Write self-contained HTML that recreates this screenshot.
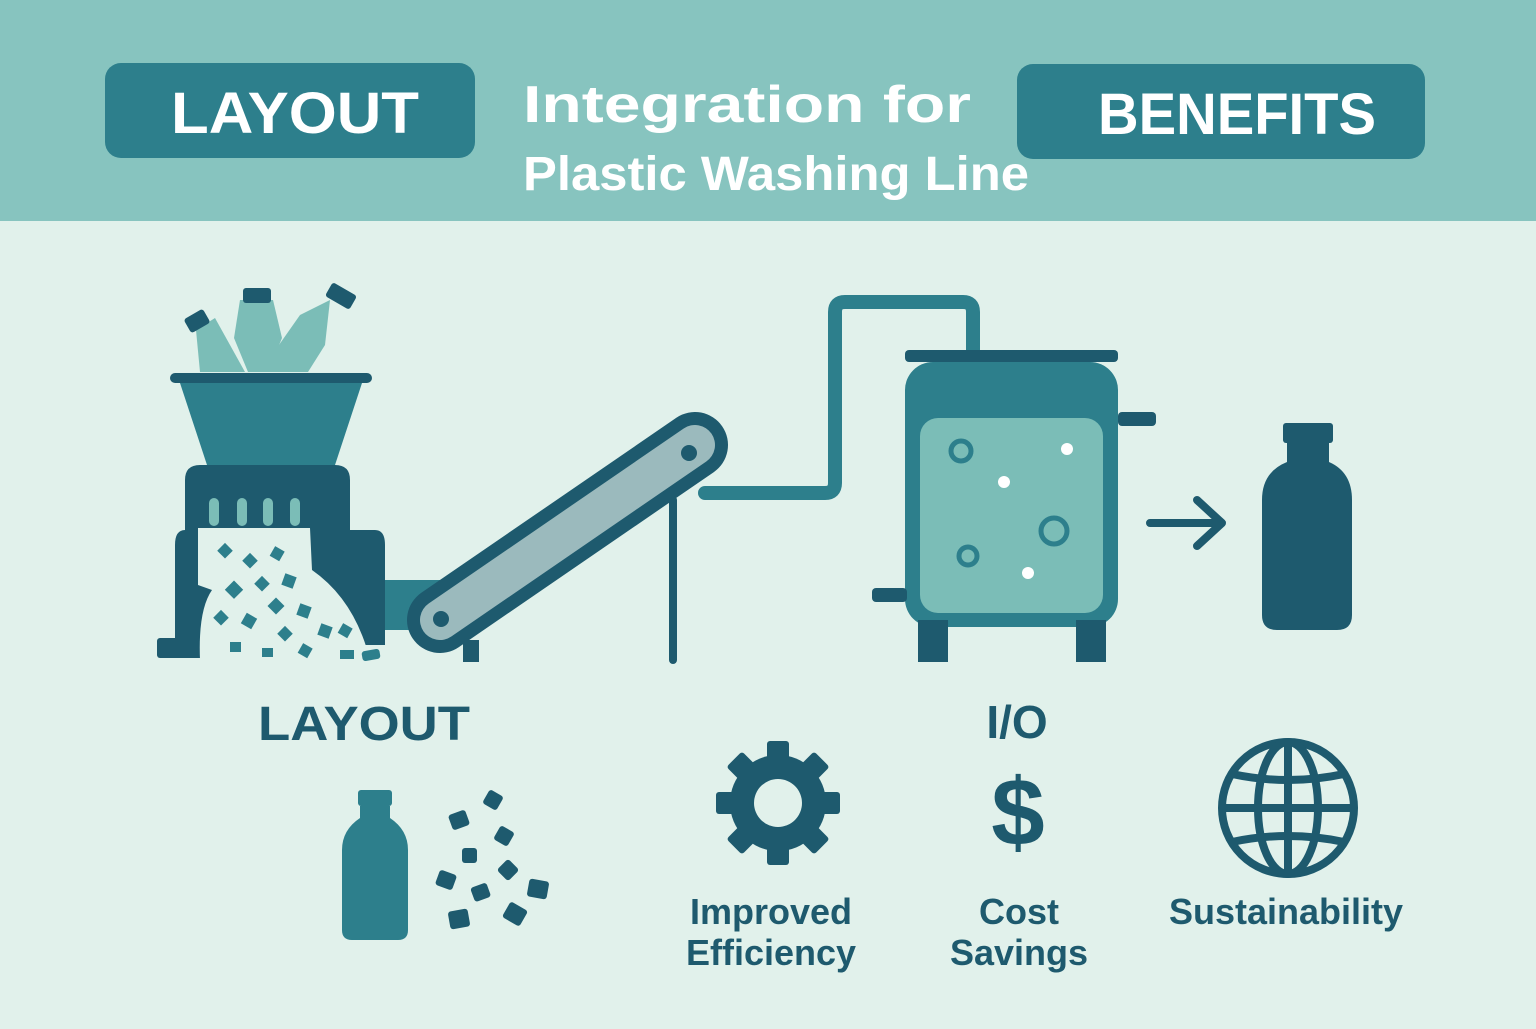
<!DOCTYPE html>
<html><head><meta charset="utf-8"><style>
body{margin:0;width:1536px;height:1024px;background:#e1f1eb;overflow:hidden;font-family:"Liberation Sans",sans-serif}
</style></head><body>
<svg width="1536" height="1024" xmlns="http://www.w3.org/2000/svg" font-family="Liberation Sans, sans-serif" font-weight="bold">
<rect x="0" y="0" width="1536" height="221" fill="#87c4bf"/>
<rect x="105" y="63" width="370" height="95" rx="16" fill="#2d7f8c"/>
<text x="295" y="133" font-size="58" fill="#fff" text-anchor="middle" textLength="248" lengthAdjust="spacingAndGlyphs">LAYOUT</text>
<rect x="1017" y="64" width="408" height="95" rx="16" fill="#2d7f8c"/>
<text x="1237" y="134" font-size="58" fill="#fff" text-anchor="middle" textLength="278" lengthAdjust="spacingAndGlyphs">BENEFITS</text>
<text x="523" y="122" font-size="52" fill="#fff" textLength="448" lengthAdjust="spacingAndGlyphs">Integration for</text>
<text x="523" y="190" font-size="48" fill="#fff" textLength="506" lengthAdjust="spacingAndGlyphs">Plastic Washing Line</text>

<!-- bottles in hopper -->
<g fill="#7bbdb7">
<path d="M196 330 L215 318 L245 372 L200 372 Z"/>
<path d="M240 300 L273 300 L282 338 L268 372 L248 372 L234 338 Z"/>
<path d="M300 315 L330 300 L325 345 L308 372 L260 372 Z"/>
</g>
<g fill="#1e5a6e">
<rect x="186" y="313" width="22" height="16" rx="3" transform="rotate(-30 197 321)"/>
<rect x="243" y="288" width="28" height="15" rx="3"/>
<rect x="327" y="288" width="28" height="16" rx="3" transform="rotate(30 341 296)"/>
</g>
<rect x="170" y="373" width="202" height="10" rx="5" fill="#1e5a6e"/>
<path d="M180 383 L362 383 L335 465 L207 465 Z" fill="#2d7f8c"/>
<path d="M185 480 Q185 465 200 465 L335 465 Q350 465 350 480 L350 530 L375 530 Q385 530 385 545 L385 645 L175 645 L175 545 Q175 530 185 530 Z" fill="#1e5a6e"/>
<rect x="157" y="638" width="60" height="20" rx="3" fill="#1e5a6e"/>
<g fill="#7bbdb7"><rect x="209" y="498" width="10" height="28" rx="5"/><rect x="237" y="498" width="10" height="28" rx="5"/><rect x="263" y="498" width="10" height="28" rx="5"/><rect x="290" y="498" width="10" height="28" rx="5"/></g>
<path d="M198 528 L310 528 L312 570 Q355 600 370 660 L200 660 Q198 610 212 590 L198 585 Z" fill="#e1f1eb"/>
<g fill="#2d7f8c">
<rect x="220" y="545" width="11" height="11" transform="rotate(45 225 550)"/><rect x="245" y="555" width="11" height="11" transform="rotate(45 250 560)"/><rect x="272" y="548" width="11" height="11" transform="rotate(30 277 553)"/><rect x="257" y="578" width="11" height="11" transform="rotate(45 262 583)"/><rect x="283" y="575" width="12" height="12" transform="rotate(20 289 581)"/><rect x="228" y="583" width="13" height="13" transform="rotate(45 234 589)"/><rect x="270" y="600" width="12" height="12" transform="rotate(45 276 606)"/><rect x="298" y="605" width="12" height="12" transform="rotate(20 304 611)"/><rect x="216" y="612" width="11" height="11" transform="rotate(45 221 617)"/><rect x="243" y="615" width="12" height="12" transform="rotate(30 249 621)"/><rect x="280" y="628" width="11" height="11" transform="rotate(45 285 633)"/><rect x="319" y="625" width="12" height="12" transform="rotate(20 325 631)"/><rect x="230" y="642" width="11" height="10"/><rect x="262" y="648" width="11" height="9"/><rect x="300" y="645" width="11" height="11" transform="rotate(30 305 650)"/><rect x="340" y="625" width="11" height="11" transform="rotate(30 345 630)"/><rect x="340" y="650" width="14" height="9"/><rect x="362" y="650" width="18" height="10" rx="3" transform="rotate(-10 371 655)"/>
</g>
<rect x="385" y="580" width="60" height="50" fill="#2d7f8c"/>
<line x1="440" y1="620" x2="695" y2="445" stroke="#1e5a6e" stroke-width="66" stroke-linecap="round"/>
<line x1="440" y1="620" x2="695" y2="445" stroke="#9bbabd" stroke-width="40" stroke-linecap="round"/>
<circle cx="441" cy="619" r="8" fill="#1e5a6e"/><circle cx="689" cy="453" r="8" fill="#1e5a6e"/>
<line x1="673" y1="500" x2="673" y2="660" stroke="#1e5a6e" stroke-width="8" stroke-linecap="round"/>
<rect x="463" y="640" width="16" height="22" fill="#1e5a6e"/>
<path d="M705 493 L825 493 Q835 493 835 483 L835 312 Q835 302 845 302 L963 302 Q973 302 973 312 L973 352" fill="none" stroke="#2d7f8c" stroke-width="14" stroke-linecap="round"/>
<rect x="905" y="350" width="213" height="12" rx="4" fill="#1e5a6e"/>
<rect x="905" y="362" width="213" height="265" rx="28" fill="#2d7f8c"/>
<rect x="920" y="418" width="183" height="195" rx="18" fill="#7bbdb7"/>
<rect x="1118" y="412" width="38" height="14" rx="4" fill="#1e5a6e"/>
<rect x="872" y="588" width="35" height="14" rx="4" fill="#1e5a6e"/>
<rect x="918" y="620" width="30" height="42" fill="#1e5a6e"/><rect x="1076" y="620" width="30" height="42" fill="#1e5a6e"/>
<g fill="none" stroke="#2d7f8c" stroke-width="5"><circle cx="961" cy="451" r="10"/><circle cx="1054" cy="531" r="13"/><circle cx="968" cy="556" r="9"/></g>
<g fill="#fff"><circle cx="1067" cy="449" r="6"/><circle cx="1004" cy="482" r="6"/><circle cx="1028" cy="573" r="6"/></g>
<path d="M1150 523 L1222 523 M1197 500 L1222 523 L1197 546" stroke="#1e5a6e" stroke-width="8" fill="none" stroke-linecap="round" stroke-linejoin="round"/>
<rect x="1283" y="423" width="50" height="20" rx="3" fill="#1e5a6e"/>
<path d="M1287 443 L1329 443 L1329 462 Q1352 472 1352 500 L1352 615 Q1352 630 1337 630 L1277 630 Q1262 630 1262 615 L1262 500 Q1262 472 1287 462 Z" fill="#1e5a6e"/>
<text x="258" y="740" font-size="48" fill="#1e5a6e" textLength="212" lengthAdjust="spacingAndGlyphs">LAYOUT</text>
<text x="1017" y="738" font-size="46" fill="#1e5a6e" text-anchor="middle">I/O</text>
<rect x="358" y="790" width="34" height="16" rx="3" fill="#2d7f8c"/>
<path d="M360 806 L390 806 L390 818 Q408 830 408 850 L408 930 Q408 940 398 940 L352 940 Q342 940 342 930 L342 850 Q342 830 360 818 Z" fill="#2d7f8c"/>
<g fill="#1e5a6e">
<rect x="485" y="792" width="16" height="16" rx="3" transform="rotate(30 493 800)"/><rect x="450" y="812" width="18" height="16" rx="3" transform="rotate(-20 459 820)"/><rect x="496" y="828" width="16" height="16" rx="3" transform="rotate(30 504 836)"/><rect x="462" y="848" width="15" height="15" rx="3"/><rect x="437" y="872" width="18" height="16" rx="3" transform="rotate(20 446 880)"/><rect x="500" y="862" width="16" height="16" rx="3" transform="rotate(45 508 870)"/><rect x="472" y="885" width="17" height="15" rx="3" transform="rotate(-20 480 892)"/><rect x="528" y="880" width="20" height="18" rx="3" transform="rotate(10 538 889)"/><rect x="449" y="910" width="20" height="18" rx="3" transform="rotate(-10 459 919)"/><rect x="505" y="905" width="20" height="18" rx="3" transform="rotate(30 515 914)"/>
</g>
<g fill="#1e5a6e" transform="translate(778 803)">
<circle r="48"/>
<g><rect x="-11" y="-62" width="22" height="22" rx="3"/><rect x="-11" y="-62" width="22" height="22" rx="3" transform="rotate(45)"/><rect x="-11" y="-62" width="22" height="22" rx="3" transform="rotate(90)"/><rect x="-11" y="-62" width="22" height="22" rx="3" transform="rotate(135)"/><rect x="-11" y="-62" width="22" height="22" rx="3" transform="rotate(180)"/><rect x="-11" y="-62" width="22" height="22" rx="3" transform="rotate(225)"/><rect x="-11" y="-62" width="22" height="22" rx="3" transform="rotate(270)"/><rect x="-11" y="-62" width="22" height="22" rx="3" transform="rotate(315)"/></g>
<circle r="24" fill="#e1f1eb"/>
</g>
<text x="1018" y="845" font-size="96" fill="#1e5a6e" text-anchor="middle">$</text>
<g fill="none" stroke="#1e5a6e" stroke-width="8" transform="translate(1288 808)">
<circle r="66"/><ellipse rx="30" ry="66"/><line x1="0" y1="-66" x2="0" y2="66"/><line x1="-66" y1="0" x2="66" y2="0"/><path d="M-56 -34 Q0 -22 56 -34"/><path d="M-56 34 Q0 22 56 34"/>
</g>
<g font-size="36" fill="#1e5a6e" text-anchor="middle">
<text x="771" y="924">Improved</text><text x="771" y="965">Efficiency</text>
<text x="1019" y="924">Cost</text><text x="1019" y="965">Savings</text>
<text x="1286" y="924">Sustainability</text>
</g>
</svg>
</body></html>
